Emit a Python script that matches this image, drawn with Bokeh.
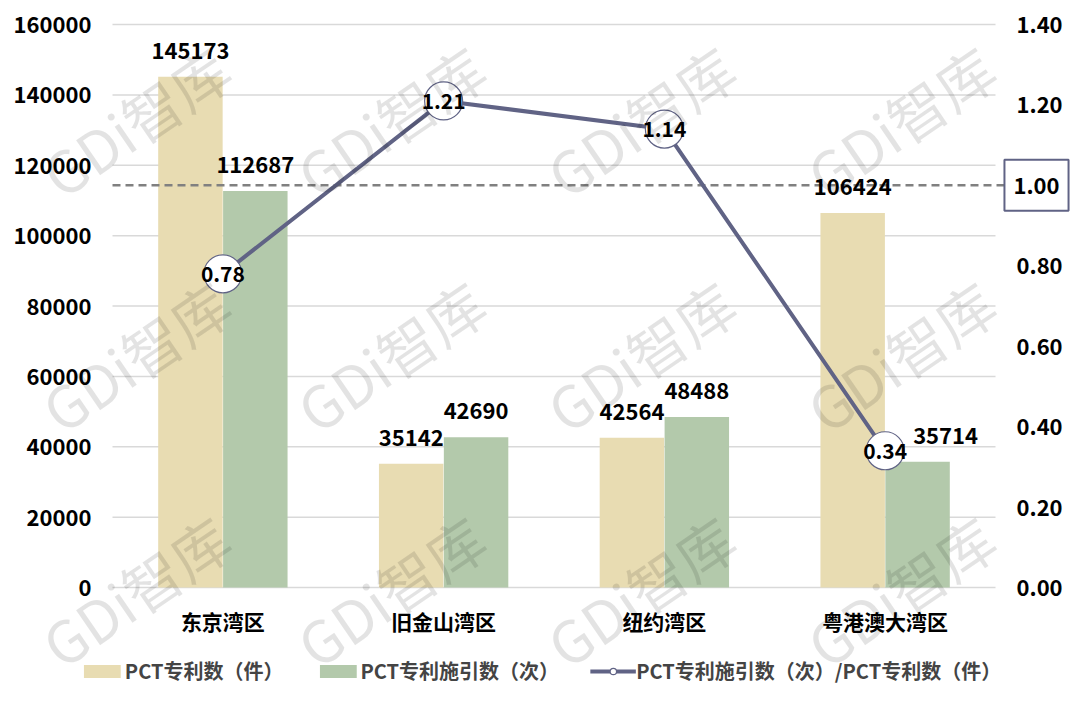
from bokeh.plotting import figure
from bokeh.models import (Range1d, LinearAxis, ColumnDataSource, LabelSet, Label,
                          Legend, LegendItem, FixedTicker, NumeralTickFormatter)
from bokeh.transform import dodge
from bokeh.embed import file_html
from bokeh.resources import INLINE
from bokeh.core.properties import value

# ---------------- data ----------------
regions = ["东京湾区", "旧金山湾区", "纽约湾区", "粤港澳大湾区"]
pct_patents = [145173, 35142, 42564, 106424]
pct_citations = [112687, 42690, 48488, 35714]
citation_ratio = [0.78, 1.21, 1.14, 0.34]
left_ticks = [0, 20000, 40000, 60000, 80000, 100000, 120000, 140000, 160000]
right_ticks = [0.0, 0.2, 0.4, 0.6, 0.8, 1.0, 1.2, 1.4]
reference_ratio = 1.0
series_names = ["PCT专利数（件）", "PCT专利施引数（次）", "PCT专利施引数（次）/PCT专利数（件）"]
watermark_text = "GDi智库"

# ---------------- style / layout ----------------
FONT = "Noto Sans CJK SC"
BEIGE = "#E8DCB2"
GREEN = "#B3C9AB"
LINE = "#606385"
GRID = "#D9D9D9"

W, H = 1080, 702
FL, FR, FT, FB = 112, 995, 24, 587          # plot-area edges in pixels
n = len(regions)
cat_px = (FR - FL) / n                       # pixels per category
ymax = left_ticks[-1]
rmax = right_ticks[-1]
ppu = (FB - FT) / ymax                       # pixels per left-axis unit

def px_x(px):
    return (px - FL) / cat_px

def px_y(py):
    return (FB - py) / ppu

x_range = Range1d(px_x(0), px_x(W))
y_range = Range1d(px_y(H), px_y(0))
r_range = Range1d(y_range.start * rmax / ymax, y_range.end * rmax / ymax)

centers = [i + 0.5 for i in range(n)]
src = ColumnDataSource(dict(
    xc=centers,
    patents=pct_patents,
    citations=pct_citations,
    ratio=citation_ratio,
    patents_label=[str(v) for v in pct_patents],
    citations_label=[str(v) for v in pct_citations],
    ratio_label=["%.2f" % v for v in citation_ratio],
    cit_dx=[0, 0, 0, 28],
))

p = figure(x_range=x_range, y_range=y_range, width=W, height=H, output_backend="svg",
           toolbar_location=None, x_axis_location=None, y_axis_location=None, min_border=0)
p.outline_line_color = None
for g in p.grid:
    g.visible = False
p.extra_y_ranges = {"right": r_range}

def style_axis(a, size):
    a.axis_line_color = None
    a.major_tick_line_color = None
    a.minor_tick_line_color = None
    a.major_tick_out = 0
    a.major_tick_in = 0
    a.minor_tick_out = 0
    a.minor_tick_in = 0
    a.major_label_text_font = FONT
    a.major_label_text_font_style = "bold"
    a.major_label_text_color = "black"
    a.major_label_text_font_size = size

ax = LinearAxis(fixed_location=0, ticker=FixedTicker(ticks=left_ticks),
                formatter=NumeralTickFormatter(format="0"), major_label_standoff=21)
style_axis(ax, "22px")
p.add_layout(ax, "left")

rax = LinearAxis(fixed_location=n, y_range_name="right", ticker=FixedTicker(ticks=right_ticks),
                 formatter=NumeralTickFormatter(format="0.00"), major_label_standoff=21,
                 major_label_overrides={reference_ratio: ""})
style_axis(rax, "22px")
p.add_layout(rax, "right")

xax = LinearAxis(fixed_location=0, ticker=FixedTicker(ticks=centers),
                 major_label_overrides={c: r for c, r in zip(centers, regions)},
                 major_label_standoff=18)
style_axis(xax, "21px")
p.add_layout(xax, "below")

# grid lines over the plot area
p.segment(x0=0, x1=n, y0=left_ticks, y1=left_ticks, line_color=GRID, line_width=1.5)

# bars
off = 0.147
bw = 0.292
b1 = p.vbar(x=dodge("xc", -off), top="patents", width=bw, fill_color=BEIGE, line_color=None, source=src)
b2 = p.vbar(x=dodge("xc", off), top="citations", width=bw, fill_color=GREEN, line_color=None, source=src)

# reference dashed line at ratio 1.00
p.segment(x0=0, x1=px_x(1004), y0=reference_ratio, y1=reference_ratio, y_range_name="right",
          line_color="#808080", line_width=2.5, line_dash="8 5")

# ratio line
l1 = p.line(x="xc", y="ratio", y_range_name="right", line_color=LINE, line_width=4, source=src)
m1 = p.scatter(x="xc", y="ratio", y_range_name="right", size=38, fill_color="white",
               line_color=LINE, line_width=1.2, source=src)

lab_kw = dict(text_font=value(FONT), text_font_style="bold", text_color="black",
              text_align="center", text_font_size="22px")
p.add_layout(LabelSet(x=dodge("xc", -off), y="patents", text="patents_label",
                      text_baseline="bottom", y_offset=18, source=src, **lab_kw))
p.add_layout(LabelSet(x=dodge("xc", off), y="citations", text="citations_label", x_offset="cit_dx",
                      text_baseline="bottom", y_offset=18, source=src, **lab_kw))
p.add_layout(LabelSet(x="xc", y="ratio", y_range_name="right", text="ratio_label",
                      text_baseline="middle", source=src,
                      **dict(lab_kw, text_font_size="21px")))

# boxed 1.00 label on the right axis
p.add_layout(Label(x=px_x(1036), y=reference_ratio, y_range_name="right",
                   text="%.2f" % reference_ratio, text_align="center", text_baseline="middle",
                   text_font=FONT, text_font_style="bold", text_font_size="22px", text_color="black",
                   border_line_color=LINE, border_line_width=2, background_fill_color="white",
                   padding=(9, 17)))

# watermarks
for py in [120, 355, 590]:
    for px in [135, 390, 640, 900]:
        p.add_layout(Label(x=px_x(px), y=px_y(py), text=watermark_text, text_align="center",
                           text_baseline="middle", angle=0.6, text_font=FONT, text_font_size="58px",
                           text_color="black", text_alpha=0.11))

legend = Legend(items=[LegendItem(label=series_names[0], renderers=[b1]),
                       LegendItem(label=series_names[1], renderers=[b2]),
                       LegendItem(label=series_names[2], renderers=[l1, m1])],
                orientation="horizontal", location="bottom_center")
legend.label_text_font = FONT
legend.label_text_font_style = "bold"
legend.label_text_font_size = "20px"
legend.border_line_color = None
legend.background_fill_alpha = 0
legend.glyph_width = 46
legend.glyph_height = 16
legend.spacing = 31
legend.label_standoff = 0
legend.margin = 17
legend.padding = 4
p.add_layout(legend)

open("out.html", "w").write(file_html(p, INLINE))
